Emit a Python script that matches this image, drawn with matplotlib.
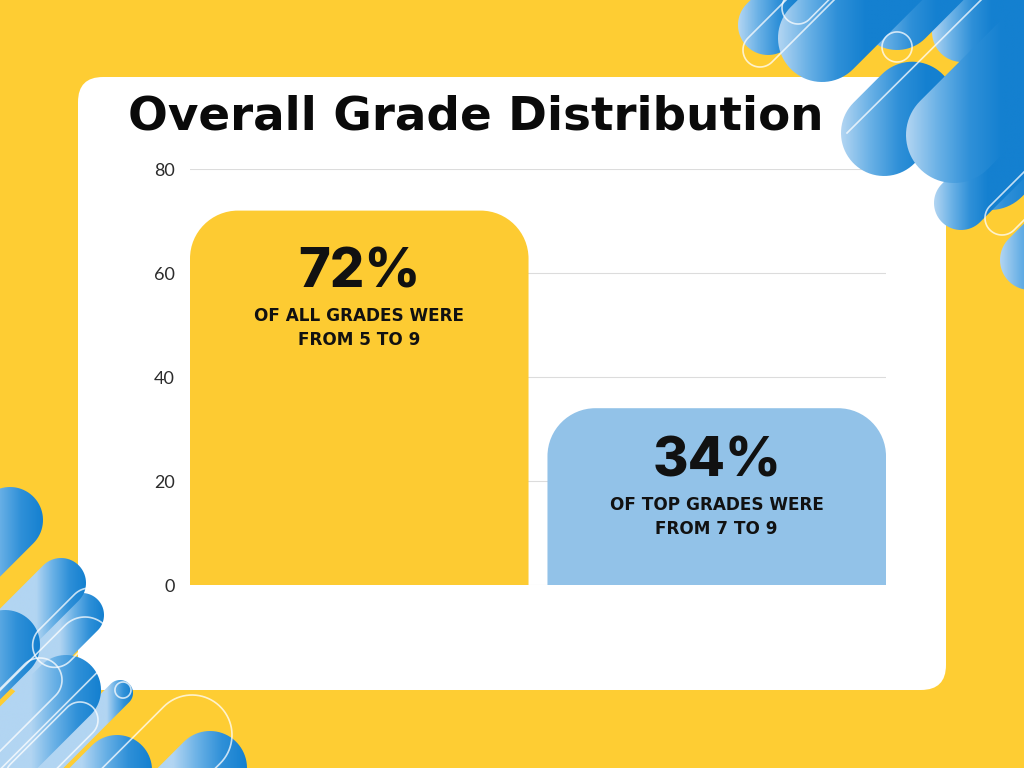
import numpy as np
import matplotlib
matplotlib.use("Agg")
from matplotlib import pyplot as plt
from matplotlib.patches import FancyBboxPatch, PathPatch
from matplotlib.path import Path
from matplotlib.colors import LinearSegmentedColormap

# chart data
categories = ["Grades 5-9", "Grades 7-9"]
values = [72, 34]
subtitles = [
    ["OF ALL GRADES WERE", "FROM 5 TO 9"],
    ["OF TOP GRADES WERE", "FROM 7 TO 9"],
]
y_ticks = [0, 20, 40, 60, 80]
title = "Overall Grade Distribution"

YELLOW = "#FECD33"
BAR_COLORS = ["#FDCB32", "#92C2E8"]

W, H = 1024, 768
fig = plt.figure(figsize=(W / 100, H / 100), dpi=100)
fig.patch.set_facecolor(YELLOW)
renderer = fig.canvas.get_renderer()

# background layer in pixel coordinates
bg = fig.add_axes([0, 0, 1, 1], zorder=0)
bg.set_xlim(0, W)
bg.set_ylim(H, 0)
bg.axis("off")
panel = FancyBboxPatch((78 + 25, 77 + 25), 868 - 50, 613 - 50,
                       boxstyle="round,pad=25", facecolor="white",
                       edgecolor="none")
bg.add_patch(panel)
t = bg.text(128, 117, title, fontsize=36, fontweight="black",
            family=["DejaVu Sans"], ha="left", va="center", color="#0A0A0A")
tw = t.get_window_extent(renderer).width
t.set_fontsize(36 * 697 / tw)

# chart axes
left, right, top, bottom = 190, 886, 169, 585
ax = fig.add_axes([left / W, 1 - bottom / H, (right - left) / W, (bottom - top) / H],
                  zorder=1)
ax.patch.set_alpha(0)
bar_w = 0.947
x = np.arange(len(values))
bars = ax.bar(x, values, width=bar_w)
ax.set_xlim(-bar_w / 2, len(values) - 1 + bar_w / 2)
ax.set_ylim(0, 80)
ax.set_yticks(y_ticks)
ax.set_xticks([])
for s in ax.spines.values():
    s.set_visible(False)
ax.tick_params(axis="y", length=0, pad=11, labelsize=13, labelcolor="#2B2B2B")
for lab in ax.get_yticklabels():
    lab.set_family(["Lato", "DejaVu Sans"])
ax.yaxis.grid(True, color="#DCDCDC", linewidth=0.8)
ax.set_axisbelow(True)

# rounded tops
px_x = (ax.get_xlim()[1] - ax.get_xlim()[0]) / (right - left)
px_y = 80 / (bottom - top)
rad = 48
k = 0.5523
for rect, color in zip(bars, BAR_COLORS):
    x0, bw, h = rect.get_x(), rect.get_width(), rect.get_height()
    rect.set_visible(False)
    rx, ry = rad * px_x, rad * px_y
    verts = [
        (x0, 0), (x0, h - ry),
        (x0, h - ry + k * ry), (x0 + rx - k * rx, h), (x0 + rx, h),
        (x0 + bw - rx, h),
        (x0 + bw - rx + k * rx, h), (x0 + bw, h - ry + k * ry), (x0 + bw, h - ry),
        (x0 + bw, 0), (x0, 0),
    ]
    codes = [Path.MOVETO, Path.LINETO,
             Path.CURVE4, Path.CURVE4, Path.CURVE4,
             Path.LINETO,
             Path.CURVE4, Path.CURVE4, Path.CURVE4,
             Path.LINETO, Path.CLOSEPOLY]
    ax.add_patch(PathPatch(Path(verts, codes), facecolor=color, edgecolor="none",
                           zorder=2))

# labels inside bars (offsets in pixels below bar top)
label_offsets = [(62, 105, 129), (54, 97, 121)]
for xi, v, subs, offs in zip(x, values, subtitles, label_offsets):
    ax.annotate(f"{v}%", (xi, v), xytext=(0, -offs[0] * 0.72),
                textcoords="offset points", ha="center", va="center",
                fontsize=39, fontweight="heavy", family=["Inter", "DejaVu Sans"],
                color="#111111", zorder=3)
    for line, off in zip(subs, offs[1:]):
        ax.annotate(line, (xi, v), xytext=(0, -off * 0.72),
                    textcoords="offset points", ha="center", va="center",
                    fontsize=12.2, fontweight="bold", family=["DejaVu Sans"],
                    color="#111111", zorder=3)

# decorative shapes on top
fg = fig.add_axes([0, 0, 1, 1], zorder=2)
fg.patch.set_alpha(0)
fg.axis("off")

blue_cmap = LinearSegmentedColormap.from_list(
    "deco", ["#B2D5F2", "#6AB1E6", "#2F90D8", "#1480D0"])


def capsule(x0, y0, x1, y1, r, n=40):
    d = np.array([x1 - x0, y1 - y0], dtype=float)
    ang = np.arctan2(d[1], d[0])
    a1 = np.linspace(ang - np.pi / 2, ang + np.pi / 2, n)
    a0 = np.linspace(ang + np.pi / 2, ang + 3 * np.pi / 2, n)
    pts = np.vstack([
        np.column_stack([x1 + r * np.cos(a1), y1 + r * np.sin(a1)]),
        np.column_stack([x0 + r * np.cos(a0), y0 + r * np.sin(a0)]),
    ])
    pts = np.vstack([pts, pts[:1]])
    return Path(pts, closed=True)


def blob(x0, y0, length, r, sign, span=2.0):
    # sign = +1 extends up-right, -1 extends down-left
    dx = sign * length / np.sqrt(2)
    path = capsule(x0, y0, x0 + dx, y0 - dx, r)
    patch = PathPatch(path, facecolor="none", edgecolor="none")
    fg.add_patch(patch)
    ext = path.get_extents()
    xa, xb = max(ext.x0, 0), min(ext.x1, W)
    ya, yb = max(ext.y0, 0), min(ext.y1, H)
    if xb <= xa or yb <= ya:
        return
    gx = np.linspace(xa, xb, 200)
    val = np.clip((gx - (x0 - r)) / (span * r), 0, 1)[None, :]
    im = fg.imshow(val, extent=(xa, xb, yb, ya), cmap=blue_cmap, vmin=0, vmax=1,
                   aspect="auto", interpolation="bilinear")
    im.set_clip_path(patch)


def outline(x0, y0, length, r, sign, lw=1.2):
    dx = sign * length / np.sqrt(2)
    path = capsule(x0, y0, x0 + dx, y0 - dx, r)
    fg.add_patch(PathPatch(path, facecolor="none", edgecolor="white",
                           linewidth=lw, alpha=0.75))


# top-right group: (x, y, length, radius)
tr_blobs = [
    (768, 25, 200, 30),
    (962, 32, 300, 30),
    (897, 10, 200, 40),
    (822, 38, 200, 44),
    (884, 133, 40, 43),
    (990, 165, 300, 45),
    (961, 203, 300, 27),
    (954, 135, 300, 48),
    (1030, 260, 200, 30),
]
for bx, by, L, r in tr_blobs:
    blob(bx, by, L, r, +1)
tr_outlines = [(798, 8, 120, 16), (897, 47, 0.1, 15), (760, 50, 200, 17),
               (1002, 218, 200, 17)]
for ox, oy, L, r in tr_outlines:
    outline(ox, oy, L, r, +1)
fg.plot([847, 981], [133, 0], color="white", linewidth=1.2, alpha=0.75)

# bottom-left group
bl_blobs = [
    (10, 520, 200, 33),
    (82, 615, 80, 22),
    (61, 583, 150, 25),
    (5, 645, 200, 35),
    (120, 693, 200, 13),
    (66, 690, 200, 35),
    (117, 770, 100, 35),
    (210, 768, 100, 37),
]
for bx, by, L, r in bl_blobs:
    blob(bx, by, L, r, -1)
bl_outlines = [(192, 735, 150, 40), (40, 680, 150, 22), (85, 645, 200, 28),
               (80, 720, 80, 18), (123, 690, 0.1, 8), (90, 610, 50, 22)]
for ox, oy, L, r in bl_outlines:
    outline(ox, oy, L, r, -1)

fg.set_xlim(0, W)
fg.set_ylim(H, 0)

fig.savefig("out.png", dpi=100, facecolor=YELLOW)
